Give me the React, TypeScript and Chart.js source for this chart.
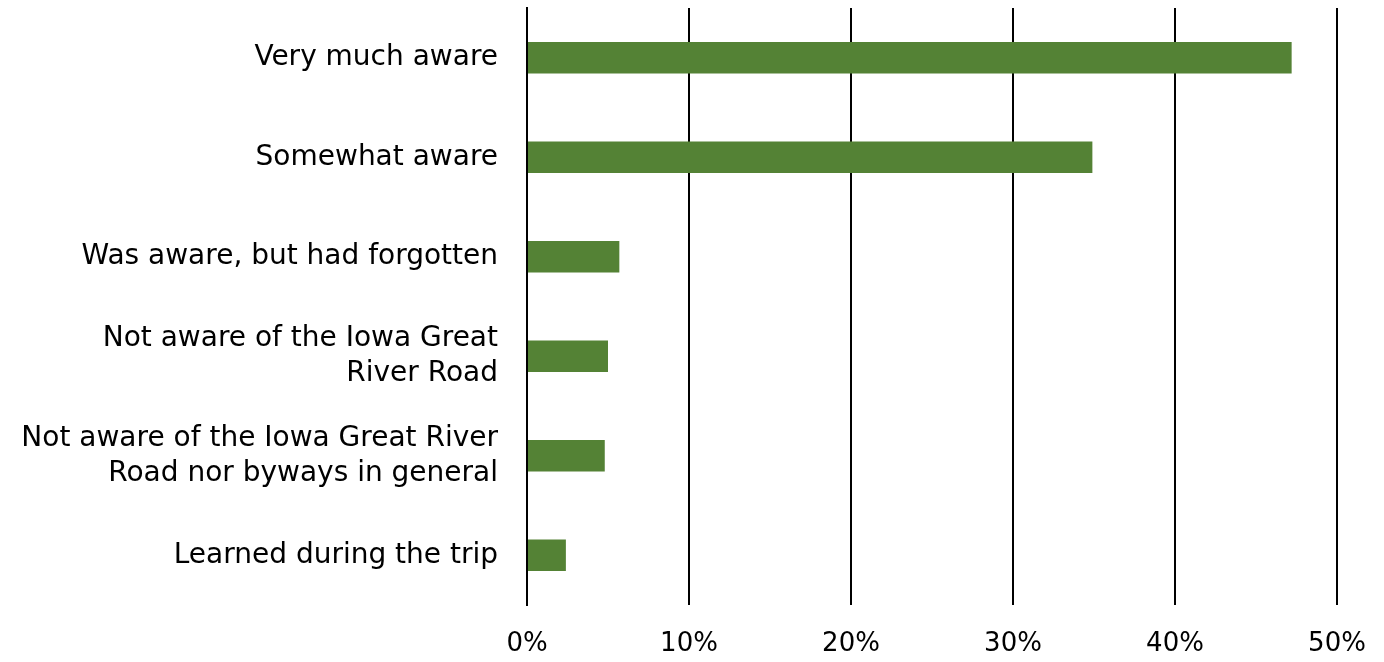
import React, { useEffect, useRef } from "react";
import { Chart, registerables } from "chart.js";

Chart.register(...registerables);

const categories: (string | string[])[] = [
  "Very much aware",
  "Somewhat aware",
  "Was aware, but had forgotten",
  ["Not aware of the Iowa Great", "River Road"],
  ["Not aware of the Iowa Great River", "Road nor byways in general"],
  "Learned during the trip",
];
const values = [47.2, 34.9, 5.7, 5.0, 4.8, 2.4];
const xTicks = [0, 10, 20, 30, 40, 50];

const FONT = "'DejaVu Sans', sans-serif";

export default function App() {
  const ref = useRef<HTMLCanvasElement>(null);
  useEffect(() => {
    document.body.style.margin = "0";
    const chart = new Chart(ref.current!, {
      type: "bar",
      data: {
        labels: categories,
        datasets: [
          {
            data: values,
            backgroundColor: "#548235",
            borderWidth: 0,
            barPercentage: 0.315,
            categoryPercentage: 1,
          },
        ],
      },
      options: {
        indexAxis: "y",
        animation: false,
        responsive: false,
        layout: { padding: { top: 8, right: 47, left: 0, bottom: 0 } },
        plugins: { legend: { display: false }, tooltip: { enabled: false } },
        scales: {
          x: {
            min: 0,
            max: 50,
            afterBuildTicks: (s: any) => {
              s.ticks = xTicks.map((v) => ({ value: v }));
            },
            afterFit: (s: any) => {
              s.height = 57;
              s.paddingLeft = 0;
              s.paddingRight = 0;
            },
            grid: { color: "#000", lineWidth: 2, drawTicks: false },
            border: { display: false },
            ticks: {
              padding: 24,
              color: "#000",
              font: { family: FONT, size: 26 },
              callback: (v: any) => v + "%",
            },
          },
          y: {
            afterFit: (s: any) => {
              s.width = 527;
              s.paddingTop = 0;
              s.paddingBottom = 0;
            },
            grid: { display: false, drawTicks: false },
            border: { display: true, color: "#000", width: 2 },
            ticks: {
              padding: 29,
              color: "#000",
              font: { family: FONT, size: 28, lineHeight: 1.25 },
            },
          },
        },
      },
    });
    return () => chart.destroy();
  }, []);
  return (
    <div style={{ width: 1384, height: 662 }}>
      <canvas ref={ref} width={1384} height={662} />
    </div>
  );
}
